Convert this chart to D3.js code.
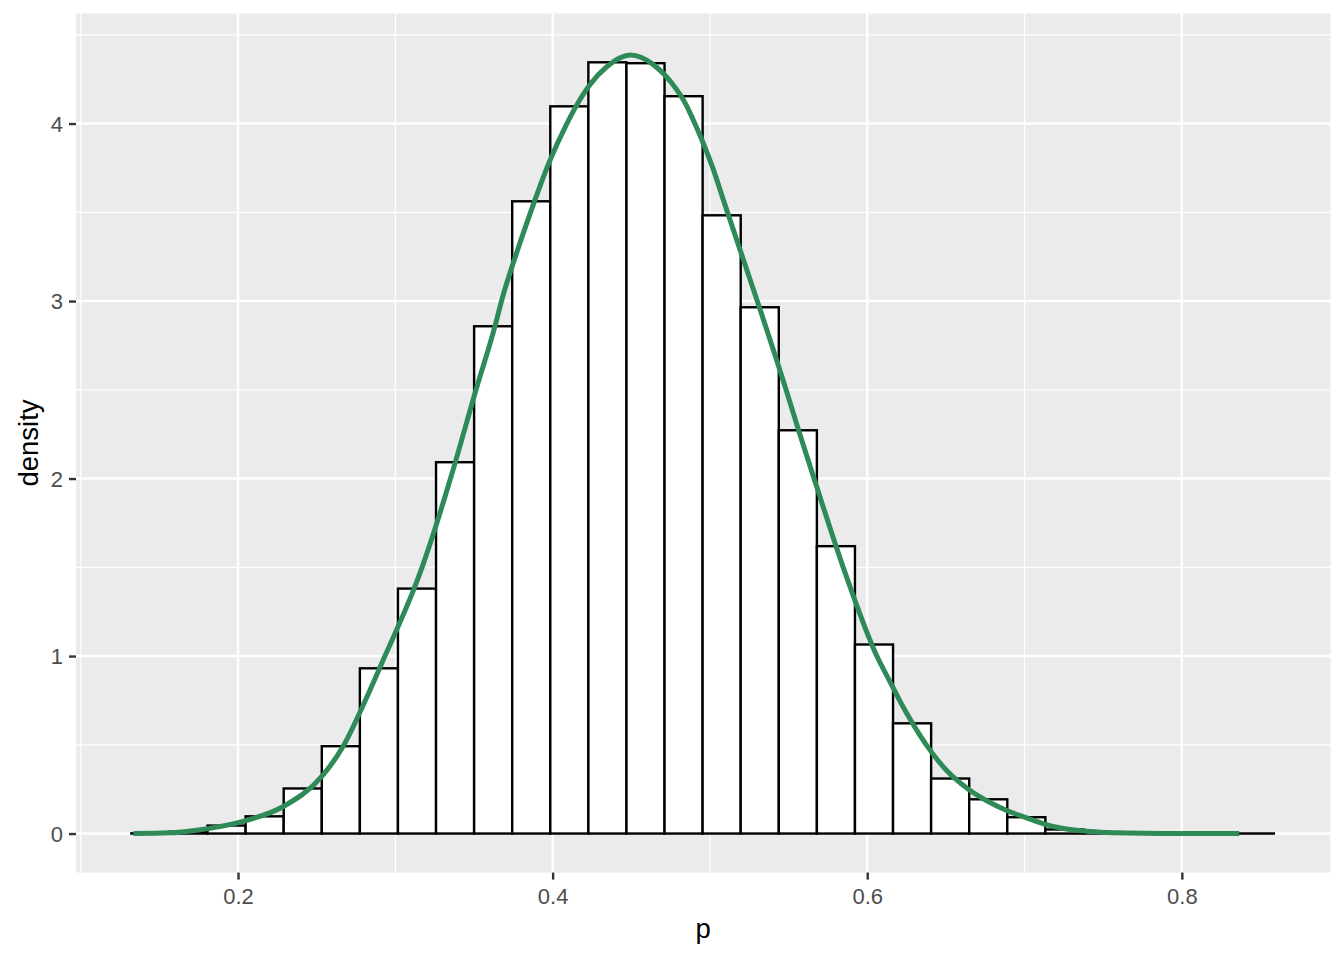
<!DOCTYPE html>
<html>
<head>
<meta charset="utf-8">
<script src="https://cdn.jsdelivr.net/npm/d3@7"></script>
<style>
  html, body { margin: 0; padding: 0; background: #ffffff; }
  svg { display: block; }
  text { font-family: "Liberation Sans", Arial, sans-serif; }
</style>
</head>
<body>
<svg id="chart" width="1344" height="960"></svg>
<script>
// ---- data ----
const binStart = 0.1322;
const binWidth = 0.02421;
const binDensity = [
  0.001, 0.010, 0.045, 0.097, 0.254, 0.492, 0.931, 1.380, 2.092, 2.858,
  3.562, 4.097, 4.345, 4.340, 4.154, 3.483, 2.965, 2.272, 1.619, 1.065,
  0.621, 0.310, 0.193, 0.092, 0.023, 0.008, 0.003, 0.001, 0.0005, 0.0004
];
const densityP = [
  0.1335, 0.1568, 0.1737, 0.2049, 0.2291, 0.2534, 0.2674, 0.2812, 0.2934, 0.3119,
  0.3170, 0.3246, 0.3354, 0.3513, 0.3634, 0.3678, 0.3782, 0.3844, 0.3982, 0.4085,
  0.4138, 0.4238, 0.4344, 0.4496, 0.4640, 0.4757, 0.4852, 0.4894, 0.4948, 0.5022,
  0.5089, 0.5172, 0.5301, 0.5484, 0.5566, 0.5662, 0.5859, 0.6061, 0.6145, 0.6209,
  0.6272, 0.6399, 0.6505, 0.6643, 0.6760, 0.6887, 0.7014, 0.7120, 0.7247, 0.7417,
  0.7565, 0.7988, 0.8365
];
const densityY = [
  0.000, 0.004, 0.019, 0.073, 0.154, 0.323, 0.500, 0.755, 1.000, 1.380,
  1.500, 1.700, 2.010, 2.500, 2.860, 3.010, 3.300, 3.460, 3.790, 3.990,
  4.080, 4.220, 4.320, 4.386, 4.332, 4.228, 4.100, 4.020, 3.910, 3.740,
  3.560, 3.340, 3.000, 2.500, 2.265, 2.000, 1.470, 1.000, 0.855, 0.745,
  0.645, 0.470, 0.355, 0.250, 0.185, 0.130, 0.088, 0.055, 0.028, 0.011,
  0.005, 0.0005, 0.000
];
const xTicks = [0.2, 0.4, 0.6, 0.8];
const xTickLabels = ["0.2", "0.4", "0.6", "0.8"];
const xMinor = [0.1, 0.3, 0.5, 0.7];
const yTicks = [0, 1, 2, 3, 4];
const yTickLabels = ["0", "1", "2", "3", "4"];
const yMinor = [0.5, 1.5, 2.5, 3.5, 4.5];
const xTitle = "p";
const yTitle = "density";

// ---- layout ----
const panel = { left: 76, right: 1330.5, top: 13.5, bottom: 872.6 };
const svg = d3.select("#chart");

const x = d3.scaleLinear().domain([0.0970, 0.8945]).range([panel.left, panel.right]);
const y = d3.scaleLinear().domain([-0.22, 4.62]).range([panel.bottom, panel.top]);

// panel background
svg.append("rect")
  .attr("x", panel.left).attr("y", panel.top)
  .attr("width", panel.right - panel.left).attr("height", panel.bottom - panel.top)
  .attr("fill", "#EBEBEB");

const grid = svg.append("g");
// minor grid
grid.selectAll(".xminor").data(xMinor).enter().append("line")
  .attr("x1", d => x(d)).attr("x2", d => x(d))
  .attr("y1", panel.top).attr("y2", panel.bottom)
  .attr("stroke", "#ffffff").attr("stroke-width", 1.2);
grid.selectAll(".yminor").data(yMinor).enter().append("line")
  .attr("y1", d => y(d)).attr("y2", d => y(d))
  .attr("x1", panel.left).attr("x2", panel.right)
  .attr("stroke", "#ffffff").attr("stroke-width", 1.2);
// major grid
grid.selectAll(".xmajor").data(xTicks).enter().append("line")
  .attr("x1", d => x(d)).attr("x2", d => x(d))
  .attr("y1", panel.top).attr("y2", panel.bottom)
  .attr("stroke", "#ffffff").attr("stroke-width", 2.4);
grid.selectAll(".ymajor").data(yTicks).enter().append("line")
  .attr("y1", d => y(d)).attr("y2", d => y(d))
  .attr("x1", panel.left).attr("x2", panel.right)
  .attr("stroke", "#ffffff").attr("stroke-width", 2.4);

// histogram bars
const bins = binDensity.map((v, i) => ({ x0: binStart + i * binWidth, x1: binStart + (i + 1) * binWidth, v }));
svg.append("g").selectAll("rect").data(bins).enter().append("rect")
  .attr("x", d => x(d.x0))
  .attr("width", d => x(d.x1) - x(d.x0))
  .attr("y", d => y(d.v))
  .attr("height", d => y(0) - y(d.v))
  .attr("fill", "#ffffff")
  .attr("stroke", "#000000")
  .attr("stroke-width", 2.4);

// density curve
const pts = densityP.map((p, i) => [p, densityY[i]]);
const line = d3.line().x(d => x(d[0])).y(d => y(d[1])).curve(d3.curveMonotoneX);
svg.append("path")
  .attr("d", line(pts))
  .attr("fill", "none")
  .attr("stroke", "#2E8B57")
  .attr("stroke-width", 5)
  .attr("stroke-linejoin", "round")
  .attr("stroke-linecap", "butt");

// axes
const xAxis = d3.axisBottom(x).tickValues(xTicks).tickSize(7).tickPadding(5)
  .tickFormat((d, i) => xTickLabels[i]);
const gx = svg.append("g").attr("transform", `translate(0,${panel.bottom})`).call(xAxis);
gx.select(".domain").remove();
gx.selectAll(".tick line").attr("stroke", "#333333").attr("stroke-width", 2.4);
gx.selectAll(".tick text").attr("fill", "#4D4D4D").attr("font-size", "22px")
  .attr("font-family", "'Liberation Sans', Arial, sans-serif").attr("dy", "0.9em");

const yAxis = d3.axisLeft(y).tickValues(yTicks).tickSize(7).tickPadding(6)
  .tickFormat((d, i) => yTickLabels[i]);
const gy = svg.append("g").attr("transform", `translate(${panel.left},0)`).call(yAxis);
gy.select(".domain").remove();
gy.selectAll(".tick line").attr("stroke", "#333333").attr("stroke-width", 2.4);
gy.selectAll(".tick text").attr("fill", "#4D4D4D").attr("font-size", "22px")
  .attr("font-family", "'Liberation Sans', Arial, sans-serif").attr("dy", "0.36em");

// axis titles
svg.append("text")
  .attr("x", (panel.left + panel.right) / 2).attr("y", 938)
  .attr("text-anchor", "middle").attr("font-size", "27.5px").attr("fill", "#000000")
  .text(xTitle);
svg.append("text")
  .attr("transform", `translate(37.5,${(panel.top + panel.bottom) / 2}) rotate(-90)`)
  .attr("text-anchor", "middle").attr("font-size", "27.5px").attr("fill", "#000000")
  .text(yTitle);
</script>
</body>
</html>
